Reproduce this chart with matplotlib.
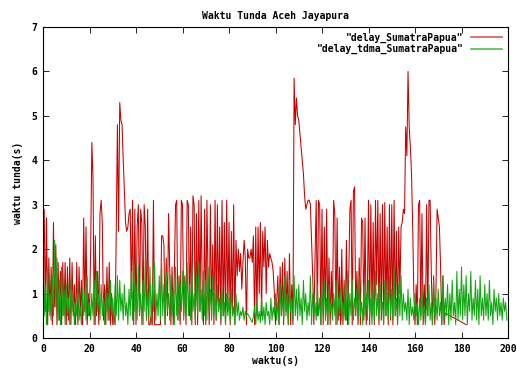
import numpy as np
from matplotlib import pyplot as plt

# red: delay_SumatraPapua, sampled every 0.5 s from 0 to 173 s, then one last point at 182 s
red_y = [
    1.7, 2.9, 0.6, 2.7, 0.3, 1.8, 0.5, 1.6, 0.3, 2.6, 0.7, 2.1, 0.3, 1.7, 0.4, 1.5, 0.3, 1.7, 0.5, 1.7,
    0.3, 1.6, 0.4, 1.8, 0.3, 1.7, 0.5, 1.2, 0.3, 1.7, 0.3, 1.6, 0.5, 1.3, 0.3, 2.7, 0.6, 2.5, 0.3, 1.0,
    0.5, 2.0, 4.4, 3.6, 0.3, 2.3, 0.5, 1.5, 0.3, 2.8, 3.1, 2.6, 0.4, 1.2, 0.3, 1.6, 0.4, 1.7, 0.3, 1.0,
    0.3, 0.5, 0.3, 2.4, 4.8, 2.4, 5.3, 4.9, 4.8, 4.0, 3.3, 2.6, 2.4, 2.5, 2.8, 2.9, 0.9, 3.1, 0.3, 2.9,
    0.3, 2.5, 3.0, 0.5, 2.9, 2.6, 0.3, 3.0, 2.5, 0.4, 2.9, 0.3, 0.3, 0.5, 0.3, 3.1, 0.3, 0.3, 0.3, 0.3,
    0.3, 0.3, 2.3, 2.3, 2.1, 0.3, 1.8, 0.5, 2.8, 1.5, 0.3, 1.6, 0.3, 1.5, 3.0, 3.1, 0.4, 1.4, 0.3, 3.1,
    3.0, 0.5, 1.4, 0.3, 3.1, 3.0, 0.5, 2.5, 0.3, 3.2, 3.0, 0.3, 2.8, 0.3, 3.1, 0.6, 3.2, 1.0, 0.3, 2.9,
    0.3, 3.1, 1.2, 0.3, 3.0, 0.5, 2.1, 0.3, 3.1, 0.4, 3.0, 0.6, 2.5, 0.3, 3.1, 0.5, 2.6, 0.3, 3.1, 0.6,
    2.6, 0.3, 2.4, 0.5, 3.0, 0.3, 2.2, 1.4, 2.0, 1.5, 1.9, 1.1, 1.7, 2.2, 1.8, 0.3, 2.0, 1.8, 1.8, 2.0,
    1.7, 2.3, 0.3, 2.5, 0.5, 2.5, 1.0, 2.6, 0.5, 2.4, 1.6, 2.5, 1.0, 2.2, 1.6, 1.9, 1.8, 1.7, 1.5, 1.0,
    0.3, 0.8, 1.4, 0.3, 1.6, 0.5, 1.7, 0.3, 1.8, 0.6, 1.5, 0.3, 1.9, 0.3, 1.2, 0.3, 5.85, 4.8, 5.4, 5.0,
    4.9, 4.6, 4.3, 4.0, 3.7, 3.2, 2.9, 3.0, 3.1, 3.1, 3.0, 2.2, 1.4, 0.3, 1.8, 3.1, 0.5, 3.1, 3.0, 0.3,
    2.9, 0.3, 2.5, 0.4, 2.9, 0.3, 1.8, 0.3, 1.5, 0.5, 3.1, 2.8, 0.3, 2.7, 0.4, 1.6, 0.3, 2.0, 0.3, 1.3,
    0.4, 2.2, 0.3, 1.4, 2.9, 3.1, 0.3, 3.3, 3.4, 0.5, 1.5, 0.3, 1.8, 0.3, 2.7, 2.6, 0.4, 2.7, 0.3, 1.0,
    3.1, 0.3, 3.0, 0.5, 2.6, 0.3, 3.1, 1.2, 3.1, 0.3, 2.8, 0.4, 3.0, 0.3, 3.05, 0.5, 2.5, 0.3, 3.0, 0.4,
    3.0, 0.3, 3.1, 0.5, 2.4, 0.3, 2.5, 1.0, 2.5, 2.6, 2.9, 2.8, 4.75, 4.1, 6.0, 4.75, 4.3, 3.7, 2.5, 1.0,
    0.3, 1.2, 0.3, 3.0, 3.1, 0.5, 2.8, 0.3, 1.2, 0.3, 3.0, 0.5, 3.1, 3.1, 1.5, 0.3, 1.4, 0.3, 1.0, 2.9,
    2.7, 2.5, 1.6, 0.3, 1.4, 0.3, 0.56,
]
red_tail_x = [182]
red_tail_y = [0.3]

# green: delay_tdma_SumatraPapua, sampled every 0.5 s from 0 to 199.5 s
green_y = [
    2.0, 0.5, 1.2, 0.3, 1.6, 0.6, 1.0, 0.4, 1.4, 0.5, 2.2, 0.7, 1.8, 0.4, 1.3, 0.3, 1.6, 0.5, 1.1, 0.3,
    1.2, 0.5, 0.9, 0.3, 1.3, 0.6, 1.0, 0.3, 0.8, 0.5, 1.2, 0.4, 0.7, 0.3, 1.1, 0.5, 1.0, 0.4, 1.4, 0.5,
    0.8, 0.4, 1.0, 0.5, 1.3, 0.3, 1.5, 0.6, 1.0, 0.4, 1.2, 0.5, 0.9, 0.3, 1.1, 0.6, 1.0, 0.4, 1.3, 0.5,
    0.9, 0.3, 1.2, 0.5, 1.4, 0.4, 1.3, 0.6, 1.0, 0.4, 1.2, 0.5, 0.8, 0.3, 1.1, 0.5, 1.5, 0.4, 1.8, 0.6,
    1.2, 0.4, 1.6, 0.5, 1.0, 0.3, 1.3, 0.6, 1.8, 0.4, 1.1, 0.5, 1.6, 0.3, 1.2, 0.6, 1.7, 0.4, 1.0, 0.5,
    1.4, 0.4, 1.7, 0.5, 1.2, 0.3, 1.5, 0.6, 1.0, 0.4, 1.4, 0.5, 1.1, 0.3, 1.6, 0.5, 1.3, 0.4, 1.2, 0.6,
    1.5, 0.4, 1.3, 0.5, 1.7, 0.5, 1.2, 0.4, 1.6, 0.6, 1.0, 0.4, 1.4, 0.5, 1.7, 0.6, 1.1, 0.4, 1.5, 0.5,
    1.3, 0.4, 1.6, 0.6, 1.1, 0.4, 1.4, 0.5, 1.0, 0.4, 1.2, 0.6, 0.9, 0.4, 1.1, 0.5, 0.8, 0.3, 1.0, 0.5,
    0.9, 0.4, 1.1, 0.5, 0.7, 0.3, 1.0, 0.5, 0.8, 0.4, 0.6, 0.5, 0.7, 0.4, 0.6, 0.5, 0.55, 0.5, 0.45, 0.4,
    0.35, 0.5, 0.7, 0.3, 0.8, 0.4, 0.6, 0.35, 0.9, 0.4, 0.7, 0.3, 0.8, 0.5, 0.6, 0.3, 0.9, 0.4, 0.7, 0.5,
    1.0, 0.4, 0.8, 0.3, 1.2, 0.5, 0.9, 0.4, 1.4, 0.5, 1.0, 0.3, 1.3, 0.6, 0.9, 0.4, 1.4, 0.5, 1.1, 0.4,
    1.2, 0.5, 0.9, 0.3, 1.3, 0.6, 1.0, 0.4, 0.8, 0.5, 1.4, 0.3, 1.0, 0.5, 0.8, 0.4, 1.2, 0.5, 0.9, 0.3,
    1.1, 0.5, 1.3, 0.4, 0.9, 0.3, 1.2, 0.6, 0.8, 0.4, 1.0, 0.5, 1.3, 0.3, 0.9, 0.5, 1.1, 0.4, 0.8, 0.5,
    1.2, 0.4, 1.5, 0.3, 1.0, 0.5, 1.3, 0.4, 0.9, 0.6, 1.1, 0.4, 1.4, 0.5, 0.8, 0.3, 1.2, 0.5, 1.0, 0.4,
    1.3, 0.5, 0.9, 0.3, 1.1, 0.4, 1.5, 0.5, 1.0, 0.4, 1.2, 0.6, 0.8, 0.3, 1.3, 0.5, 1.0, 0.4, 1.4, 0.5,
    1.1, 0.4, 1.6, 0.5, 0.9, 0.3, 1.2, 0.5, 1.4, 0.4, 1.0, 0.6, 0.8, 0.4, 1.1, 0.3, 0.9, 0.5, 0.7, 0.4,
    1.0, 0.5, 0.8, 0.3, 0.9, 0.4, 1.1, 0.5, 0.7, 0.3, 0.9, 0.5, 1.2, 0.4, 0.8, 0.3, 1.3, 0.5, 0.9, 0.4,
    1.1, 0.5, 0.8, 0.3, 1.4, 0.4, 0.9, 0.5, 1.2, 0.3, 1.0, 0.4, 1.3, 0.5, 0.8, 0.3, 1.5, 0.4, 1.1, 0.5,
    1.6, 0.4, 1.2, 0.5, 1.4, 0.3, 1.0, 0.6, 1.5, 0.4, 0.9, 0.5, 1.3, 0.4, 1.1, 0.3, 1.4, 0.5, 0.9, 0.4,
    1.2, 0.5, 1.0, 0.4, 1.3, 0.5, 0.8, 0.3, 1.1, 0.6, 0.9, 0.4, 1.0, 0.5, 0.8, 0.4, 0.9, 0.6, 0.8, 0.4,
]

red_x = list(np.arange(len(red_y)) * 0.5) + red_tail_x
red_all = red_y + red_tail_y
green_x = np.arange(len(green_y)) * 0.5

font = {'family': 'DejaVu Sans Mono', 'weight': 'bold', 'size': 7}

fig = plt.figure(figsize=(5.17, 3.72), dpi=100)
ax = fig.add_axes([0.0832, 0.0914, 0.8994, 0.836])

ax.plot(red_x, red_all, color='#c80000', lw=0.75, label='"delay_SumatraPapua"')
ax.plot(green_x, green_y, color='#10a810', lw=0.75, label='"delay_tdma_SumatraPapua"')

ax.set_xlim(0, 200)
ax.set_ylim(0, 7)
ax.set_xticks(range(0, 201, 20))
ax.set_yticks(range(0, 8))
ax.tick_params(direction='in', length=4, width=0.6, top=True, right=True, pad=4)
for lab in ax.get_xticklabels() + ax.get_yticklabels():
    lab.set_fontproperties(font)
for s in ax.spines.values():
    s.set_linewidth(0.8)

ax.set_title('Waktu Tunda Aceh Jayapura', fontdict=font, pad=6)
ax.set_xlabel('waktu(s)', fontdict=font, labelpad=2)
ax.set_ylabel('waktu tunda(s)', fontdict=font, labelpad=6)

leg = ax.legend(loc='upper right', frameon=False, markerfirst=False,
                prop=font, handlelength=3.2, borderaxespad=0.2,
                labelspacing=0.1, handletextpad=0.8)
for t in leg.get_texts():
    t.set_ha('right')
for h, c in zip(leg.get_lines(), ['#d06060', '#50c050']):
    h.set_linewidth(1.2)
    h.set_color(c)

fig.savefig('out.png', dpi=100)
